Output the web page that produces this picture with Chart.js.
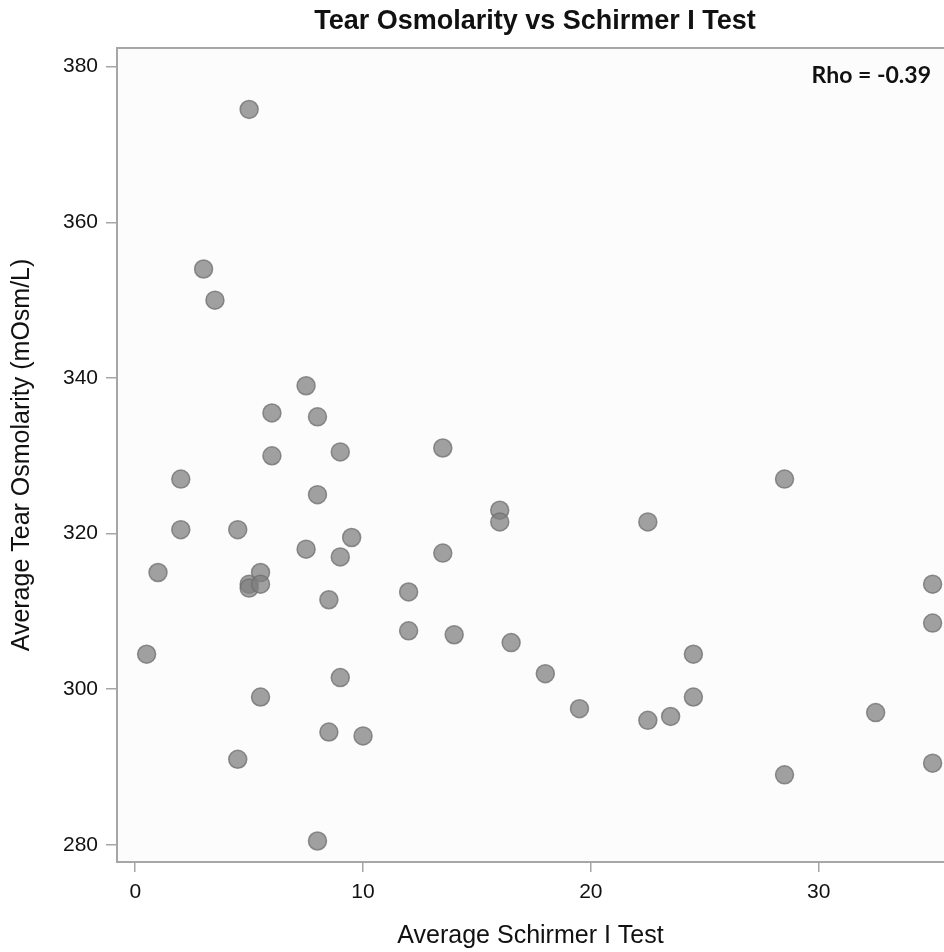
<!DOCTYPE html>
<html>
<head>
<meta charset="utf-8">
<script src="https://cdn.jsdelivr.net/npm/chart.js@4.4.1/dist/chart.umd.min.js"></script>
<style>
    html, body { margin: 0; padding: 0; background: #fff; overflow: hidden; }
    #wrap { width: 944px; height: 952px; position: relative; }
</style>
</head>
<body>
<div id="wrap"><canvas id="chart"></canvas></div>
<script>
(function () {
    'use strict';

    // Average Schirmer I test (x) vs average tear osmolarity (y)
    const schirmer = [
        0.5, 1, 2, 2, 3, 3.5, 4.5, 4.5, 5, 5,
        5, 5.5, 5.5, 5.5, 6, 6, 7.5, 7.5, 8, 8,
        8, 8.5, 8.5, 9, 9, 9, 9.5, 10, 12, 12,
        13.5, 13.5, 14, 16, 16, 16.5, 18, 19.5, 22.5, 22.5,
        23.5, 24.5, 24.5, 28.5, 28.5, 32.5, 35, 35, 35
    ];
    const osmolarity = [
        304.5, 315, 327, 320.5, 354, 350, 320.5, 291, 374.5, 313.5,
        313, 315, 313.5, 299, 335.5, 330, 339, 318, 335, 325,
        280.5, 311.5, 294.5, 330.5, 317, 301.5, 319.5, 294, 312.5, 307.5,
        331, 317.5, 307, 323, 321.5, 306, 302, 297.5, 321.5, 296,
        296.5, 304.5, 299, 327, 289, 297, 313.5, 308.5, 290.5
    ];
    const xTicks = [0, 10, 20, 30];
    const yTicks = [280, 300, 320, 340, 360, 380];

    const TITLE = 'Tear Osmolarity vs Schirmer I Test';
    const RHO   = 'Rho = -0.39';
    const AXIS  = '#a6a6a6';
    const FONT  = '"Liberation Sans", Arial, sans-serif';

    const points = schirmer.map((x, i) => ({ x, y: osmolarity[i] }));

    const framePlugin = {
        id: 'frame',
        beforeDraw(chart) {
            const { ctx, chartArea: a } = chart;
            ctx.save();
            ctx.fillStyle = '#fcfcfc';
            ctx.fillRect(a.left, a.top, a.right - a.left, a.bottom - a.top);
            ctx.restore();
        },
        afterDraw(chart) {
            const { ctx, chartArea: a } = chart;
            ctx.save();
            // top border of the plot box (right side is cut off in the original)
            ctx.strokeStyle = AXIS;
            ctx.lineWidth = 2;
            ctx.beginPath();
            ctx.moveTo(a.left - 1, a.top);
            ctx.lineTo(a.right, a.top);
            ctx.stroke();

            ctx.fillStyle = '#111';
            ctx.textAlign = 'center';
            ctx.textBaseline = 'middle';
            ctx.font = 'bold 27px ' + FONT;
            ctx.fillText(TITLE, 535, 22);

            ctx.textAlign = 'right';
            ctx.font = 'bold 23px Lato, "Open Sans", sans-serif';
            ctx.fillText(RHO, 931, 76);
            ctx.restore();
        }
    };

    new Chart(document.getElementById('chart'), {
        type: 'scatter',
        data: {
            datasets: [{
                data: points,
                backgroundColor: 'rgba(128,128,128,0.74)',
                borderColor: 'rgba(110,110,110,0.75)',
                borderWidth: 1.5,
                pointRadius: 9,
                pointHoverRadius: 9,
            }],
        },
        options: {
            responsive: true,
            maintainAspectRatio: false,
            animation: false,
            layout: { autoPadding: false, padding: { top: 48, right: 0, left: 0, bottom: 0 } },
            plugins: {
                legend: { display: false },
                tooltip: { enabled: false },
            },
            scales: {
                x: {
                    type: 'linear',
                    min: -0.8,
                    max: 35.5,
                    afterBuildTicks: s => { s.ticks = xTicks.map(v => ({ value: v })); },
                    afterFit: s => { s.height = 90; },
                    grid: { drawOnChartArea: false, color: AXIS, lineWidth: 1.5, tickLength: 10 },
                    border: { color: AXIS, width: 2 },
                    ticks: { color: '#111', font: { family: FONT, size: 21 }, padding: 8, maxRotation: 0 },
                    title: {
                        display: true,
                        text: 'Average Schirmer I Test',
                        color: '#111',
                        font: { family: FONT, size: 25 },
                        padding: { top: 0, bottom: 1 },
                    },
                },
                y: {
                    type: 'linear',
                    min: 277.8,
                    max: 382.4,
                    afterBuildTicks: s => { s.ticks = yTicks.map(v => ({ value: v })); },
                    afterFit: s => { s.width = 117; },
                    grid: { drawOnChartArea: false, color: AXIS, lineWidth: 1.5, tickLength: 11 },
                    border: { color: AXIS, width: 2 },
                    ticks: { color: '#111', font: { family: FONT, size: 21 }, padding: 8 },
                    title: {
                        display: true,
                        text: 'Average Tear Osmolarity (mOsm/L)',
                        color: '#111',
                        font: { family: FONT, size: 25 },
                        padding: { top: 7, bottom: 0 },
                    },
                },
            },
        },
        plugins: [framePlugin],
    });
})();
</script>
</body>
</html>
